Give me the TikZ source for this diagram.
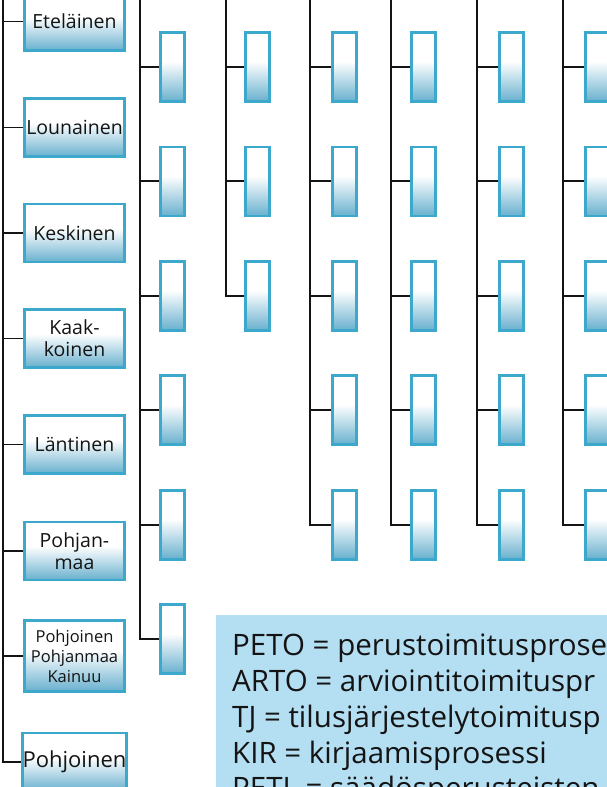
\documentclass[tikz,border=0pt]{standalone}
\usepackage{fontspec}
\setmainfont{Open Sans}
\usetikzlibrary{positioning}
\definecolor{boxedge}{RGB}{59,168,204}
\definecolor{boxfill}{RGB}{104,176,206}
\definecolor{legendfill}{RGB}{180,222,242}
\definecolor{ink}{RGB}{20,20,20}
\pgfdeclareverticalshading{boxshade}{100bp}{color(0bp)=(boxfill); color(25bp)=(boxfill); color(54bp)=(white); color(100bp)=(white)}

\begin{document}
\begin{tikzpicture}[x=1pt,y=-1pt]
\tikzstyle{every node}+=[inner sep=0pt]
\tikzstyle{region}=[draw=boxedge, line width=2.8pt, shading=boxshade, minimum width=100pt, minimum height=58pt, align=center, text=ink, font=\fontsize{19.5}{22}\selectfont]
\tikzstyle{proc}=[region, minimum width=24pt, minimum height=69pt]
\tikzstyle{tree}=[ink, line width=1.9pt]
\tikzstyle{legendtext}=[text=ink, anchor=base west, font=\fontsize{29.5}{36}\selectfont]
\useasboundingbox (0,0) rectangle (607,787);
\clip (0,0) rectangle (607,787);
% regions
\node [region] (ete) at (74.5,21.5) {Eteläinen};
\node [region] (lou) at (74.5,127.5) {Lounainen};
\node [region] (kes) at (74.5,233) {Keskinen};
\node [region] (kaa) at (74.5,338.5) {Kaak-\\koinen};
\node [region] (lan) at (74.5,444.5) {Läntinen};
\node [region] (pom) at (74.5,551) {Pohjan-\\maa};
\node [region, minimum height=71pt, font=\fontsize{16.5}{20}\selectfont] (ppk) at (74.5,656) {Pohjoinen\\Pohjanmaa\\Kainuu};
\node [region, font=\fontsize{22}{24}\selectfont] (poh) at (74.5,762) {Pohjoinen};
\coordinate (top0) at (3,-5);
\draw [tree] (top0) |- (poh.west);
\draw [tree] (top0 |- ete.west) -- (ete.west);
\draw [tree] (top0 |- lou.west) -- (lou.west);
\draw [tree] (top0 |- kes.west) -- (kes.west);
\draw [tree] (top0 |- kaa.west) -- (kaa.west);
\draw [tree] (top0 |- lan.west) -- (lan.west);
\draw [tree] (top0 |- pom.west) -- (pom.west);
\draw [tree] (top0 |- ppk.west) -- (ppk.west);
% column 1
\node [proc] (a1) at (172.5,67) {};
\node [proc] (a2) at (172.5,181.4) {};
\node [proc] (a3) at (172.5,295.8) {};
\node [proc] (a4) at (172.5,410.2) {};
\node [proc] (a5) at (172.5,524.6) {};
\node [proc] (a6) at (172.5,639) {};
\coordinate (top1) at (140,-5);
\draw [tree] (top1) |- (a6.west);
\draw [tree] (top1 |- a1.west) -- (a1.west);
\draw [tree] (top1 |- a2.west) -- (a2.west);
\draw [tree] (top1 |- a3.west) -- (a3.west);
\draw [tree] (top1 |- a4.west) -- (a4.west);
\draw [tree] (top1 |- a5.west) -- (a5.west);
% column 2
\node [proc] (b1) at (257.5,67) {};
\node [proc] (b2) at (257.5,181.4) {};
\node [proc] (b3) at (257.5,295.8) {};
\coordinate (top2) at (226,-5);
\draw [tree] (top2) |- (b3.west);
\draw [tree] (top2 |- b1.west) -- (b1.west);
\draw [tree] (top2 |- b2.west) -- (b2.west);
% column 3
\node [proc] (c1) at (344.5,67) {};
\node [proc] (c2) at (344.5,181.4) {};
\node [proc] (c3) at (344.5,295.8) {};
\node [proc] (c4) at (344.5,410.2) {};
\node [proc] (c5) at (344.5,524.6) {};
\coordinate (top3) at (310,-5);
\draw [tree] (top3) |- (c5.west);
\draw [tree] (top3 |- c1.west) -- (c1.west);
\draw [tree] (top3 |- c2.west) -- (c2.west);
\draw [tree] (top3 |- c3.west) -- (c3.west);
\draw [tree] (top3 |- c4.west) -- (c4.west);
% column 4
\node [proc] (d1) at (423.5,67) {};
\node [proc] (d2) at (423.5,181.4) {};
\node [proc] (d3) at (423.5,295.8) {};
\node [proc] (d4) at (423.5,410.2) {};
\node [proc] (d5) at (423.5,524.6) {};
\coordinate (top4) at (391,-5);
\draw [tree] (top4) |- (d5.west);
\draw [tree] (top4 |- d1.west) -- (d1.west);
\draw [tree] (top4 |- d2.west) -- (d2.west);
\draw [tree] (top4 |- d3.west) -- (d3.west);
\draw [tree] (top4 |- d4.west) -- (d4.west);
% column 5
\node [proc] (e1) at (511.5,67) {};
\node [proc] (e2) at (511.5,181.4) {};
\node [proc] (e3) at (511.5,295.8) {};
\node [proc] (e4) at (511.5,410.2) {};
\node [proc] (e5) at (511.5,524.6) {};
\coordinate (top5) at (477,-5);
\draw [tree] (top5) |- (e5.west);
\draw [tree] (top5 |- e1.west) -- (e1.west);
\draw [tree] (top5 |- e2.west) -- (e2.west);
\draw [tree] (top5 |- e3.west) -- (e3.west);
\draw [tree] (top5 |- e4.west) -- (e4.west);
% column 6
\node [proc] (f1) at (597.5,67) {};
\node [proc] (f2) at (597.5,181.4) {};
\node [proc] (f3) at (597.5,295.8) {};
\node [proc] (f4) at (597.5,410.2) {};
\node [proc] (f5) at (597.5,524.6) {};
\coordinate (top6) at (563,-5);
\draw [tree] (top6) |- (f5.west);
\draw [tree] (top6 |- f1.west) -- (f1.west);
\draw [tree] (top6 |- f2.west) -- (f2.west);
\draw [tree] (top6 |- f3.west) -- (f3.west);
\draw [tree] (top6 |- f4.west) -- (f4.west);
% legend
\node [fill=legendfill, minimum width=420pt, minimum height=200pt, anchor=north west] (legend) at (216,615) {};
\node [legendtext] (peto) at (232,655) {PETO = perustoimitusprose};
\node [legendtext] (arto) at (232,691) {ARTO = arviointitoimituspr};
\node [legendtext] (tj) at (232,727) {TJ = tilusjärjestelytoimitusp};
\node [legendtext] (kir) at (232,763) {KIR = kirjaamisprosessi};
\node [legendtext] (petl) at (232,798) {PETL = säädösperusteisten};
\end{tikzpicture}
\end{document}
